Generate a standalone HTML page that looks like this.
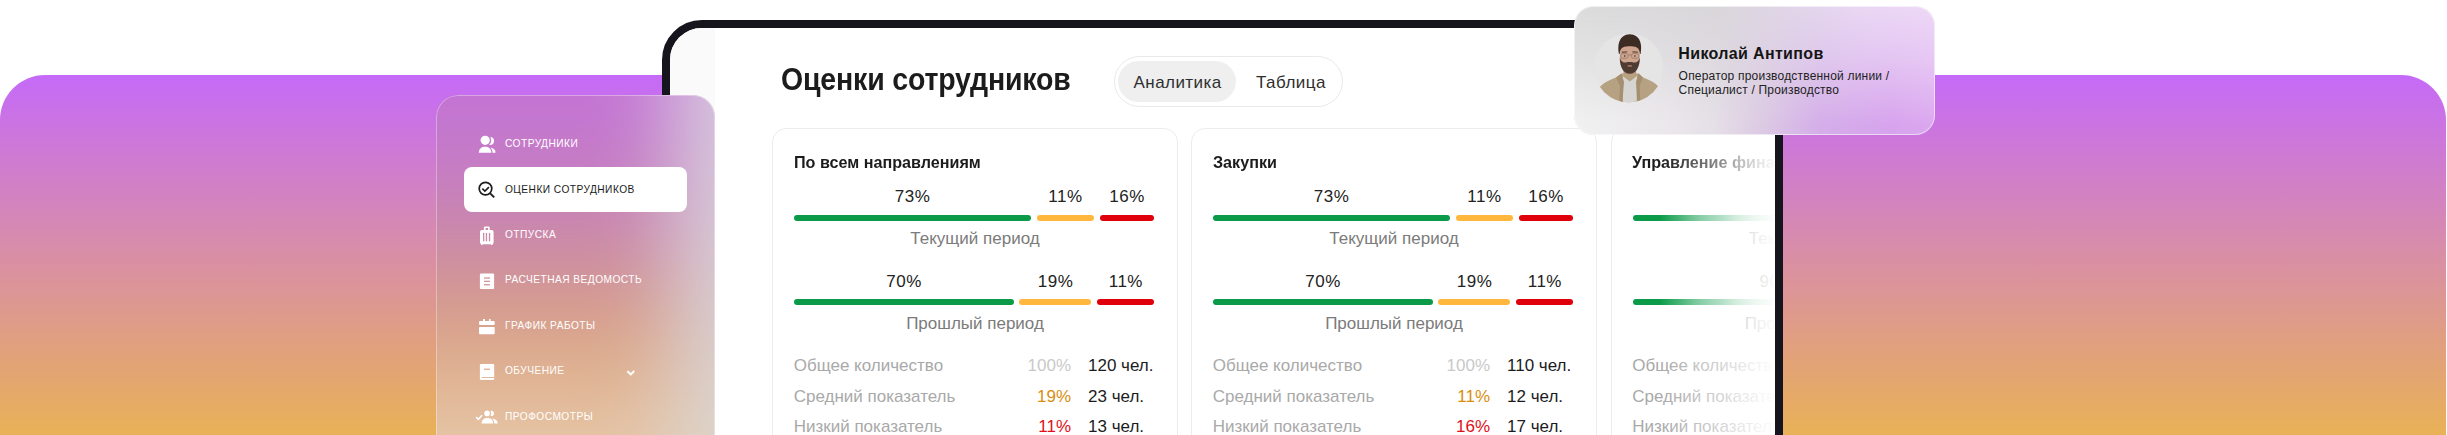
<!DOCTYPE html>
<html lang="ru">
<head>
<meta charset="utf-8">
<style>
*{box-sizing:border-box;margin:0;padding:0}
html,body{width:2447px;height:435px;overflow:hidden;background:#fff}
body{position:relative;font-family:"Liberation Sans","Noto Sans CJK JP",sans-serif;color:#1c1c1c}
.bg{position:absolute;left:0;top:75px;width:2446px;height:460px;border-radius:45px 45px 0 0;
 background:linear-gradient(180deg,#c56af8 0px,#d98ea6 180px,#e9b157 360px,#eab456 460px)}
.device{position:absolute;left:662px;top:20px;width:1121px;height:520px;border:8px solid #16141d;border-radius:40px;background:#fff;overflow:hidden}
.strip{position:absolute;left:0;top:0;width:45px;height:100%;background:#fafafb}
.abs{position:absolute;white-space:nowrap;line-height:1}
.title{font-weight:700;font-size:30.5px;letter-spacing:-.2px;transform:scaleX(.935);transform-origin:0 0;color:#1c1c1c}
.pill{position:absolute;left:444px;top:28px;width:229px;height:51px;border:1.5px solid #e9e9e9;border-radius:26px;background:#fff}
.pill .on{position:absolute;left:3px;top:3.5px;width:118px;height:41px;border-radius:21px;background:#efefef}
.pill span{position:absolute;font-size:17px;letter-spacing:.45px;color:#2e2e2e;line-height:1}
.card{position:absolute;top:100px;width:406px;height:420px;border:1px solid #ececec;border-radius:14px;background:#fff}
.card .h{font-weight:700;font-size:17px;transform:scaleX(.95);transform-origin:0 0;color:#1c1c1c}
.card .p{font-size:17px;letter-spacing:.5px;text-indent:.5px;color:#222}
.bar{position:absolute;height:6px;border-radius:3px}
.g{background:#0a9a48}.g3{background:linear-gradient(90deg,#0a9a48 0,#0a9a48 25px,rgba(10,154,72,.75) 68px,rgba(10,154,72,.45) 118px,rgba(10,154,72,.3) 200px)}.y{background:#ffb83d}.r{background:#e0000b}
.card .per{font-size:17px;color:#7b7b7b}
.card .lab{font-size:17px;color:#a9a9a9}
.card .v{font-size:17px;color:#1c1c1c}
.fade{position:absolute;left:990px;top:90px;width:130px;height:420px;background:linear-gradient(90deg,rgba(255,255,255,0) 0,rgba(255,255,255,.15) 20px,rgba(255,255,255,.35) 40px,rgba(255,255,255,.5) 62px,rgba(255,255,255,.7) 80px,rgba(255,255,255,.8) 92px,rgba(255,255,255,.88) 100px,rgba(255,255,255,.94) 110px,#fff 116px)}

.side{position:absolute;left:436px;top:95px;width:279px;height:400px;border-radius:22px;overflow:hidden}
.sideblur{position:absolute;left:-120px;top:-120px;width:520px;height:600px;background:#fff;filter:blur(40px);overflow:hidden}
.sbg{position:absolute;left:-316px;top:0;width:2446px;height:600px;
 background:linear-gradient(180deg,#c372d8 0px,#c372d8 110px,#c47ac9 180px,#cb8aa6 270px,#d59b8c 330px,#ddac88 380px,#e6c6a8 460px,#e8cdb0 600px)}
.sdev{position:absolute;left:356px;top:-50px;width:400px;height:800px;background:linear-gradient(180deg,#d6c8dc 0,#d6c8dc 220px,#d8cdd2 380px,#ddd5cc 520px,#ddd5cc 800px)}
.sidetint{position:absolute;inset:0;background:rgba(255,255,255,0)}
.sideborder{position:absolute;inset:0;border-radius:22px;border:1px solid rgba(255,255,255,.35);border-bottom:none}
.icons{position:absolute;left:0;top:0}
.side .t{position:absolute;left:69px;font-size:10.2px;letter-spacing:.45px;color:#fff;line-height:1;white-space:nowrap}
.side .t.dk{color:#1c1c1c}
.act{position:absolute;left:27.6px;top:72px;width:223.4px;height:45.4px;border-radius:8px;background:#fff}

.prof{position:absolute;left:1574px;top:6px;width:361px;height:129px;border-radius:20px;overflow:hidden}
.pA{position:absolute;inset:0;background:linear-gradient(90deg,#dcdcdc 0%,#dad7db 40%,#e2d6ea 62%,#ead8f4 80%,#eed9f7 100%)}
.pB{position:absolute;inset:0;background:linear-gradient(90deg,#f1f1f1 0%,#ebe8ec 25%,#e5dfe7 39%,#dccae3 52%,#d4aee9 68%,#d7a3ed 88%,#dba8ef 100%);
 -webkit-mask-image:linear-gradient(180deg,transparent 0%,rgba(0,0,0,.35) 40%,#000 92%);mask-image:linear-gradient(180deg,transparent 0%,rgba(0,0,0,.35) 40%,#000 92%)}
.ptint{display:none}
.pborder{position:absolute;inset:0;border-radius:20px;border:1px solid rgba(255,255,255,.55)}
.ava{position:absolute;left:20px;top:27px}
.prof .n{font-weight:700;font-size:16px;letter-spacing:.35px;color:#151515}
.prof .s{font-size:12px;letter-spacing:.2px;color:#222}
</style>
</head>
<body>
<div class="bg"></div>

<div class="device">
  <div class="strip"></div>
  <div class="abs title" style="left:111px;top:36.4px">Оценки сотрудников</div>
  <div class="pill">
    <div class="on"></div>
    <span style="left:18.5px;top:16.6px">Аналитика</span>
    <span style="left:141px;top:16.6px">Таблица</span>
  </div>

<div class="card" style="left:102px">
<div class="abs h" style="left:20.8px;top:24.8px">По всем направлениям</div>
<div class="abs p" style="left:21px;width:236.7px;text-align:center;top:59.1px">73%</div>
<div class="bar g" style="left:21px;width:236.7px;top:86px"></div>
<div class="abs p" style="left:263.6px;width:57.3px;text-align:center;top:59.1px">11%</div>
<div class="bar y" style="left:263.6px;width:57.3px;top:86px"></div>
<div class="abs p" style="left:326.7px;width:54.4px;text-align:center;top:59.1px">16%</div>
<div class="bar r" style="left:326.7px;width:54.4px;top:86px"></div>
<div class="abs per" style="left:0;width:404px;text-align:center;top:101.3px">Текущий период</div>
<div class="abs p" style="left:21px;width:219.5px;text-align:center;top:144.2px">70%</div>
<div class="bar g" style="left:21px;width:219.5px;top:170px"></div>
<div class="abs p" style="left:246.4px;width:71.7px;text-align:center;top:144.2px">19%</div>
<div class="bar y" style="left:246.4px;width:71.7px;top:170px"></div>
<div class="abs p" style="left:324px;width:57.2px;text-align:center;top:144.2px">11%</div>
<div class="bar r" style="left:324px;width:57.2px;top:170px"></div>
<div class="abs per" style="left:0;width:404px;text-align:center;top:186.1px">Прошлый период</div>
<div class="abs lab" style="left:20.7px;top:227.9px">Общее количество</div>
<div class="abs v" style="left:0;width:298px;text-align:right;top:227.9px;color:#c9c9c9">100%</div>
<div class="abs v" style="left:315px;top:227.9px">120 чел.</div>
<div class="abs lab" style="left:20.7px;top:258.5px">Средний показатель</div>
<div class="abs v" style="left:0;width:298px;text-align:right;top:258.5px;color:#d98e10">19%</div>
<div class="abs v" style="left:315px;top:258.5px">23 чел.</div>
<div class="abs lab" style="left:20.7px;top:288.9px">Низкий показатель</div>
<div class="abs v" style="left:0;width:298px;text-align:right;top:288.9px;color:#e0101a">11%</div>
<div class="abs v" style="left:315px;top:288.9px">13 чел.</div>
</div>
<div class="card" style="left:521px">
<div class="abs h" style="left:20.8px;top:24.8px">Закупки</div>
<div class="abs p" style="left:21px;width:236.7px;text-align:center;top:59.1px">73%</div>
<div class="bar g" style="left:21px;width:236.7px;top:86px"></div>
<div class="abs p" style="left:263.6px;width:57.3px;text-align:center;top:59.1px">11%</div>
<div class="bar y" style="left:263.6px;width:57.3px;top:86px"></div>
<div class="abs p" style="left:326.7px;width:54.4px;text-align:center;top:59.1px">16%</div>
<div class="bar r" style="left:326.7px;width:54.4px;top:86px"></div>
<div class="abs per" style="left:0;width:404px;text-align:center;top:101.3px">Текущий период</div>
<div class="abs p" style="left:21px;width:219.5px;text-align:center;top:144.2px">70%</div>
<div class="bar g" style="left:21px;width:219.5px;top:170px"></div>
<div class="abs p" style="left:246.4px;width:71.7px;text-align:center;top:144.2px">19%</div>
<div class="bar y" style="left:246.4px;width:71.7px;top:170px"></div>
<div class="abs p" style="left:324px;width:57.2px;text-align:center;top:144.2px">11%</div>
<div class="bar r" style="left:324px;width:57.2px;top:170px"></div>
<div class="abs per" style="left:0;width:404px;text-align:center;top:186.1px">Прошлый период</div>
<div class="abs lab" style="left:20.7px;top:227.9px">Общее количество</div>
<div class="abs v" style="left:0;width:298px;text-align:right;top:227.9px;color:#c9c9c9">100%</div>
<div class="abs v" style="left:315px;top:227.9px">110 чел.</div>
<div class="abs lab" style="left:20.7px;top:258.5px">Средний показатель</div>
<div class="abs v" style="left:0;width:298px;text-align:right;top:258.5px;color:#d98e10">11%</div>
<div class="abs v" style="left:315px;top:258.5px">12 чел.</div>
<div class="abs lab" style="left:20.7px;top:288.9px">Низкий показатель</div>
<div class="abs v" style="left:0;width:298px;text-align:right;top:288.9px;color:#e0101a">16%</div>
<div class="abs v" style="left:315px;top:288.9px">17 чел.</div>
</div>
<div class="card" style="left:940.5px">
<div class="abs h" style="left:20.8px;top:24.8px">Управление финансами</div>
<div class="abs p" style="left:21px;width:320px;text-align:center;top:59.1px">85%</div>
<div class="bar g3" style="left:21px;width:320px;top:86px"></div>
<div class="abs p" style="left:317px;width:40px;text-align:center;top:59.1px">8%</div>
<div class="bar y" style="left:317px;width:40px;top:86px"></div>
<div class="abs p" style="left:363px;width:20px;text-align:center;top:59.1px">10%</div>
<div class="bar r" style="left:363px;width:20px;top:86px"></div>
<div class="abs per" style="left:0;width:404px;text-align:center;top:101.3px">Текущий период</div>
<div class="abs p" style="left:21px;width:289px;text-align:center;top:144.2px">90%</div>
<div class="bar g3" style="left:21px;width:289px;top:170px"></div>
<div class="abs p" style="left:327px;width:30px;text-align:center;top:144.2px">5%</div>
<div class="bar y" style="left:327px;width:30px;top:170px"></div>
<div class="abs p" style="left:363px;width:20px;text-align:center;top:144.2px">5%</div>
<div class="bar r" style="left:363px;width:20px;top:170px"></div>
<div class="abs per" style="left:0;width:404px;text-align:center;top:186.1px">Прошлый период</div>
<div class="abs lab" style="left:20.7px;top:227.9px">Общее количество</div>
<div class="abs v" style="left:0;width:298px;text-align:right;top:227.9px;color:#c9c9c9">100%</div>
<div class="abs v" style="left:315px;top:227.9px">95 чел.</div>
<div class="abs lab" style="left:20.7px;top:258.5px">Средний показатель</div>
<div class="abs v" style="left:0;width:298px;text-align:right;top:258.5px;color:#d98e10">8%</div>
<div class="abs v" style="left:315px;top:258.5px">8 чел.</div>
<div class="abs lab" style="left:20.7px;top:288.9px">Низкий показатель</div>
<div class="abs v" style="left:0;width:298px;text-align:right;top:288.9px;color:#e0101a">10%</div>
<div class="abs v" style="left:315px;top:288.9px">9 чел.</div>
</div>
  <div class="fade"></div>
</div>

<div class="side">
  <div class="sideblur"><div class="sbg"></div><div class="sdev"></div></div>
  <div class="sidetint"></div>
  <div class="act"></div>
  <svg class="icons" width="279" height="345" viewBox="0 0 279 345">
    <defs>
      <mask id="m1" maskUnits="userSpaceOnUse" x="0" y="0" width="279" height="340">
        <rect x="0" y="0" width="279" height="340" fill="#fff"/>
        <circle cx="49.2" cy="45.3" r="6" fill="#000"/>
        <path d="M41.6,59 C41.6,52.5 45.2,50.4 49.1,50.4 C53,50.4 56.6,52.5 56.6,59Z" fill="#000"/>
      </mask>
      <mask id="m7" maskUnits="userSpaceOnUse" x="0" y="0" width="279" height="340">
        <rect x="0" y="0" width="279" height="340" fill="#fff"/>
        <circle cx="51.1" cy="318.4" r="4" fill="#000"/>
        <path d="M44.4,330 C44.4,323.9 47.6,321.9 51.4,321.9 C55.2,321.9 58.4,323.9 58.4,330Z" fill="#000"/>
      </mask>
      <mask id="m3" maskUnits="userSpaceOnUse" x="0" y="0" width="279" height="340">
        <rect x="0" y="0" width="279" height="340" fill="#fff"/>
        <rect x="47" y="137.9" width="1.3" height="8.4" fill="#000"/>
        <rect x="49.8" y="137.9" width="1.3" height="8.4" fill="#000"/>
        <rect x="52.9" y="137.9" width="1.3" height="8.4" fill="#000"/>
        <rect x="49.6" y="133" width="2.5" height="2" fill="#000"/>
      </mask>
      <mask id="m4" maskUnits="userSpaceOnUse" x="0" y="0" width="279" height="340">
        <rect x="0" y="0" width="279" height="340" fill="#fff"/>
        <rect x="48" y="182.4" width="6" height="1.3" fill="#000"/>
        <rect x="48" y="185.7" width="6" height="1.3" fill="#000"/>
        <rect x="48" y="189.1" width="6" height="1.3" fill="#000"/>
      </mask>
      <mask id="m6" maskUnits="userSpaceOnUse" x="0" y="0" width="279" height="340">
        <rect x="0" y="0" width="279" height="340" fill="#fff"/>
        <rect x="48" y="273.6" width="6" height="1.3" fill="#000"/>
        <rect x="45.8" y="282.1" width="13" height="0.9" fill="#000"/>
      </mask>
    </defs>
    <g fill="#fff">
      <!-- 1 users -->
      <g mask="url(#m1)"><circle cx="53.9" cy="46" r="4.1"/><path d="M47.5,57.7 C47.5,54 50.2,52.8 53.6,52.8 C57,52.8 59.5,54.5 59.5,57.7Z"/></g>
      <circle cx="49.2" cy="45.3" r="4.6"/>
      <path d="M42.9,57.7 C42.9,53.6 45.6,51.7 49.1,51.7 C52.6,51.7 55.3,53.6 55.3,57.7Z"/>
      <!-- 3 suitcase -->
      <g mask="url(#m3)">
        <rect x="44" y="135" width="13.6" height="14.2" rx="2"/>
        <rect x="47.9" y="131.5" width="5.8" height="4" rx="1.2"/>
        <rect x="45" y="148" width="1.6" height="2" rx=".5"/>
        <rect x="55" y="148" width="1.6" height="2" rx=".5"/>
      </g>
      <!-- 4 doc -->
      <rect x="43.9" y="178.6" width="14.2" height="15.3" rx="1" mask="url(#m4)"/>
      <!-- 5 calendar -->
      <rect x="43" y="226" width="15.7" height="4" rx="1"/>
      <rect x="43" y="232.1" width="15.7" height="7.1" rx="1"/>
      <rect x="47" y="224" width="2" height="3"/>
      <rect x="53" y="224" width="1.6" height="3"/>
      <!-- 6 book -->
      <rect x="43.9" y="269" width="14.3" height="16.1" rx="1.3" mask="url(#m6)"/>
      <!-- 7 users check -->
      <g mask="url(#m7)"><circle cx="55.2" cy="318.4" r="2.7"/><path d="M51.5,328.6 C51.5,325.2 53.6,323.7 56.3,323.7 C59,323.7 61.7,325.2 61.7,328.6Z"/></g>
      <circle cx="51.1" cy="318.4" r="2.8"/>
      <path d="M45.6,328.6 C45.6,324.9 48.2,323.1 51.4,323.1 C54.6,323.1 57.2,324.9 57.2,328.6Z"/>
    </g>
    <path d="M40.1,322.1 L42.4,324.3 L46,320.3" fill="none" stroke="#fff" stroke-width="1.5"/>
    <path d="M191.4,276.2 L194.8,279.5 L198.3,275.9" fill="none" stroke="#fff" stroke-width="1.9"/>
    <!-- 2 search check -->
    <g fill="none" stroke="#1c1c1c">
      <circle cx="49.5" cy="93.6" r="6.3" stroke-width="1.7"/>
      <path d="M54.2,98.3 L58.2,102.3" stroke-width="1.9"/>
      <path d="M46.3,93.6 L48.9,96.1 L52.9,92.1" stroke-width="1.6"/>
    </g>
  </svg>
  <div class="t" style="top:43.7px">СОТРУДНИКИ</div>
  <div class="t dk" style="top:89.5px">ОЦЕНКИ СОТРУДНИКОВ</div>
  <div class="t" style="top:134.8px">ОТПУСКА</div>
  <div class="t" style="top:180.4px">РАСЧЕТНАЯ ВЕДОМОСТЬ</div>
  <div class="t" style="top:225.9px">ГРАФИК РАБОТЫ</div>
  <div class="t" style="top:271.4px">ОБУЧЕНИЕ</div>
  <div class="t" style="top:316.9px">ПРОФОСМОТРЫ</div>
  <div class="sideborder"></div>
</div>

<div class="prof">
  <div class="pA"></div><div class="pB"></div>
  <div class="ptint"></div>
  <svg class="ava" width="70" height="70" viewBox="1594 33 70 70">
    <defs><clipPath id="ac"><circle cx="1628.7" cy="67.8" r="34.5"/></clipPath></defs>
    <g clip-path="url(#ac)">
      <rect x="1594" y="33" width="70" height="70" fill="#e5e5e5"/>
      <rect x="1623.5" y="66" width="12.6" height="14" rx="3" fill="#bd9079"/>
      <path d="M1593,106 L1596,93 C1599,85 1607,81 1616,77.5 L1621.5,73.5 L1638.5,73.5 L1643,77.5 C1652,81 1660,85 1662,93 L1665,106 Z" fill="#b6a283"/>
      <path d="M1622.6,76 L1629.8,81.5 L1637,76 L1636.6,106 L1623,106 Z" fill="#d6d5d2"/>
      <path d="M1616,77.5 L1621.5,73.5 L1624,82 L1622,106 L1619,106 L1620,86 Z" fill="#a48f6f"/>
      <path d="M1643,77.5 L1638.5,73.5 L1636,82 L1637.6,106 L1640.5,106 L1639.6,86 Z" fill="#a48f6f"/>
      <path d="M1619.9,50 C1619.9,46 1624,44.8 1629.8,44.8 C1635.6,44.8 1639.7,46 1639.7,50 L1639.7,60 C1639.7,68 1635.5,72.5 1629.8,72.5 C1624.1,72.5 1619.9,68 1619.9,60 Z" fill="#cfa48e"/>
      <path d="M1619.8,57.5 C1619.8,67 1623.5,73.8 1629.8,73.8 C1636.1,73.8 1639.8,67 1639.8,57.5 C1638.6,61.5 1636.5,63.2 1633.5,62.4 C1631.5,61.9 1628.1,61.9 1626.1,62.4 C1623.1,63.2 1621,61.5 1619.8,57.5 Z" fill="#4e3c33"/>
      <ellipse cx="1629.8" cy="65.9" rx="2.5" ry=".9" fill="#a87264"/>
      <path d="M1619,54 C1617.2,45 1619,34.8 1629.8,34.3 C1640.6,34.8 1642.4,45 1640.6,54 L1639.9,54 C1639.7,48.8 1637.5,45.8 1629.8,46.2 C1622.1,45.8 1619.9,48.8 1619.7,54 Z" fill="#3c2c24"/>
      <g fill="none" stroke="#947a68" stroke-width=".75">
        <rect x="1620.8" y="53.6" width="7.4" height="4.7" rx="2"/>
        <rect x="1631.4" y="53.6" width="7.4" height="4.7" rx="2"/>
        <path d="M1628.2,55 L1631.4,55"/>
      </g>
      <circle cx="1624.7" cy="56" r=".8" fill="#3a2a22"/>
      <circle cx="1634.9" cy="56" r=".8" fill="#3a2a22"/>
      <path d="M1621.8,52.2 L1627.2,51.9" stroke="#3c2c24" stroke-width=".9" fill="none"/>
      <path d="M1632.4,51.9 L1637.8,52.2" stroke="#3c2c24" stroke-width=".9" fill="none"/>
    </g>
  </svg>
  <div class="abs n" style="left:104.3px;top:40.1px">Николай Антипов</div>
  <div class="abs s" style="left:104.6px;top:63.5px">Оператор производственной линии /</div>
  <div class="abs s" style="left:104.6px;top:77.9px">Специалист / Производство</div>
  <div class="pborder"></div>
</div>
</body>
</html>
